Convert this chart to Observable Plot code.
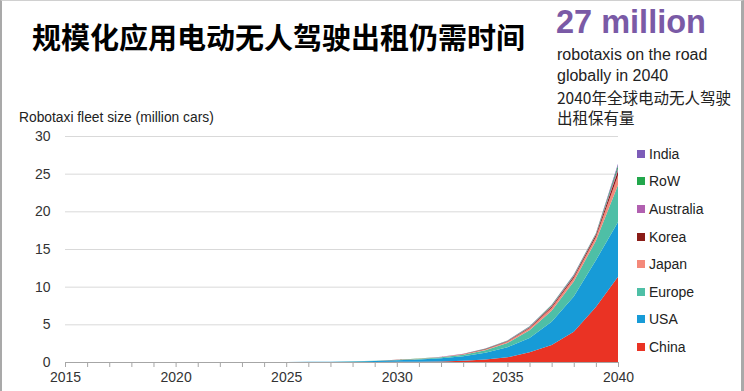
<!DOCTYPE html>
<html>
<head>
<meta charset="utf-8">
<script src="https://cdn.jsdelivr.net/npm/d3@7"></script>
<script src="https://cdn.jsdelivr.net/npm/@observablehq/plot@0.6"></script>
<style>
  html, body { margin: 0; padding: 0; background: #fff; }
  body { width: 744px; height: 391px; position: relative; overflow: hidden; font-family: "Liberation Sans", Arial, sans-serif; }
  #frame { position: absolute; left: 0; top: 0; width: 739px; height: 395px; border-left: 2px solid #a9a9a9; border-right: 3px solid #a9a9a9; border-top: 1px solid #d0d0d0; pointer-events: none; }
  #chart { position: absolute; left: 0; top: 0; }
  .abs { position: absolute; white-space: nowrap; }
  #title { left: 32px; top: 17px; font-family: "Noto Sans CJK SC", sans-serif; font-weight: 700; font-size: 29px; line-height: 38px; color: #000; }
  #big { left: 556px; top: 4px; font-size: 32.5px; font-weight: 700; color: #7a5aa6; line-height: 36px; }
  #sub { left: 557px; top: 45px; font-size: 16px; line-height: 20.8px; color: #222; }
  #sub .cjk { font-family: "Noto Sans CJK SC", sans-serif; font-size: 15.5px; }
  #ylab { left: 19px; top: 110px; font-size: 13.8px; color: #222; }
  #legend { left: 637px; top: 140px; }
  .li { height: 27.6px; display: flex; align-items: center; font-size: 14px; color: #222; }
  .sw { width: 8px; height: 8px; margin-right: 4px; }
</style>
</head>
<body>
<div id="chart"></div>
<div id="title" class="abs"></div>
<div id="big" class="abs"></div>
<div id="sub" class="abs"></div>
<div id="ylab" class="abs"></div>
<div id="legend" class="abs"></div>
<div id="frame"></div>
<script>
const titleText = "规模化应用电动无人驾驶出租仍需时间";
const bigText = "27 million";
const subLines = ["robotaxis on the road", "globally in 2040", "2040年全球电动无人驾驶", "出租保有量"];
const yLabel = "Robotaxi fleet size (million cars)";

const years = d3.range(2015, 2041);
// values in million cars, 2015..2040
const china     = [0,0,0,0,0,0,0,0,0,0,0,0,0,0.003,0.01,0.02,0.04,0.08,0.16,0.32,0.62,1.3,2.25,4.0,7.3,11.3];
const usa       = [0,0,0,0,0,0,0,0,0,0,0.01,0.02,0.04,0.08,0.13,0.2,0.29,0.42,0.6,0.9,1.35,1.9,3.1,4.7,6.2,7.3];
const europe    = [0,0,0,0,0,0,0,0,0,0,0,0,0.005,0.01,0.02,0.04,0.07,0.12,0.2,0.33,0.55,1.0,1.45,2.0,2.6,4.9];
const japan     = [0,0,0,0,0,0,0,0,0,0,0,0,0,0.005,0.01,0.015,0.025,0.04,0.07,0.11,0.17,0.27,0.4,0.45,0.5,1.3];
const korea     = [0,0,0,0,0,0,0,0,0,0,0,0,0,0.003,0.005,0.008,0.012,0.02,0.03,0.05,0.08,0.12,0.18,0.2,0.25,0.6];
const australia = [0,0,0,0,0,0,0,0,0,0,0,0,0,0.001,0.003,0.004,0.006,0.01,0.02,0.03,0.04,0.06,0.08,0.1,0.1,0.3];
const row       = [0,0,0,0,0,0,0,0,0,0,0,0,0,0.001,0.002,0.003,0.007,0.01,0.015,0.03,0.04,0.06,0.09,0.1,0.1,0.35];
const india     = [0,0,0,0,0,0,0,0,0,0,0,0,0,0,0,0,0,0,0.005,0.01,0.02,0.04,0.05,0.05,0.05,0.25];

const regions = ["China", "USA", "Europe", "Japan", "Korea", "Australia", "RoW", "India"];
const series = [china, usa, europe, japan, korea, australia, row, india];
const colors = ["#ea3324", "#179bd7", "#4ebfa6", "#f4897a", "#8a1c17", "#b160b0", "#22a74c", "#7d5cb8"];
const yTicks = [0, 5, 10, 15, 20, 25, 30];
const xLabelTicks = [2015, 2020, 2025, 2030, 2035, 2040];

const data = [];
regions.forEach((r, i) => years.forEach((y, j) => data.push({year: y, region: r, value: series[i][j]})));

const chart = Plot.plot({
  width: 744,
  height: 391,
  marginTop: 136,
  marginLeft: 65,
  marginRight: 126,
  marginBottom: 29,
  style: {fontFamily: "'Liberation Sans', Arial, sans-serif", fontSize: "14px", color: "#333", background: "transparent"},
  x: {domain: [2015, 2040]},
  y: {domain: [0, 30]},
  color: {domain: regions, range: colors},
  marks: [
    Plot.ruleY(yTicks.filter(d => d > 0), {stroke: "#d9d9d9", strokeWidth: 1}),
    Plot.areaY(data, {x: "year", y: "value", fill: "region", order: regions, curve: "linear"}),
    Plot.ruleY([0], {stroke: "#a6a6a6", strokeWidth: 1}),
    Plot.axisY({ticks: yTicks, tickSize: 0, tickPadding: 15, label: null, fontSize: 14}),
    Plot.axisX({ticks: years, tickSize: 5, tickPadding: 5, stroke: "#a6a6a6", label: null, fontSize: 14,
      tickFormat: d => xLabelTicks.includes(d) ? String(d) : ""})
  ]
});
document.getElementById("chart").appendChild(chart);

document.getElementById("title").textContent = titleText;
document.getElementById("big").textContent = bigText;
document.getElementById("ylab").textContent = yLabel;
const sub = document.getElementById("sub");
subLines.forEach((t, i) => {
  const d = document.createElement("div");
  d.textContent = t;
  if (i >= 2) d.className = "cjk";
  sub.appendChild(d);
});
const leg = document.getElementById("legend");
regions.slice().reverse().forEach(r => {
  const i = regions.indexOf(r);
  const row = document.createElement("div");
  row.className = "li";
  const sw = document.createElement("span");
  sw.className = "sw";
  sw.style.background = colors[i];
  const tx = document.createElement("span");
  tx.textContent = r;
  row.appendChild(sw); row.appendChild(tx);
  leg.appendChild(row);
});
</script>
</body>
</html>
